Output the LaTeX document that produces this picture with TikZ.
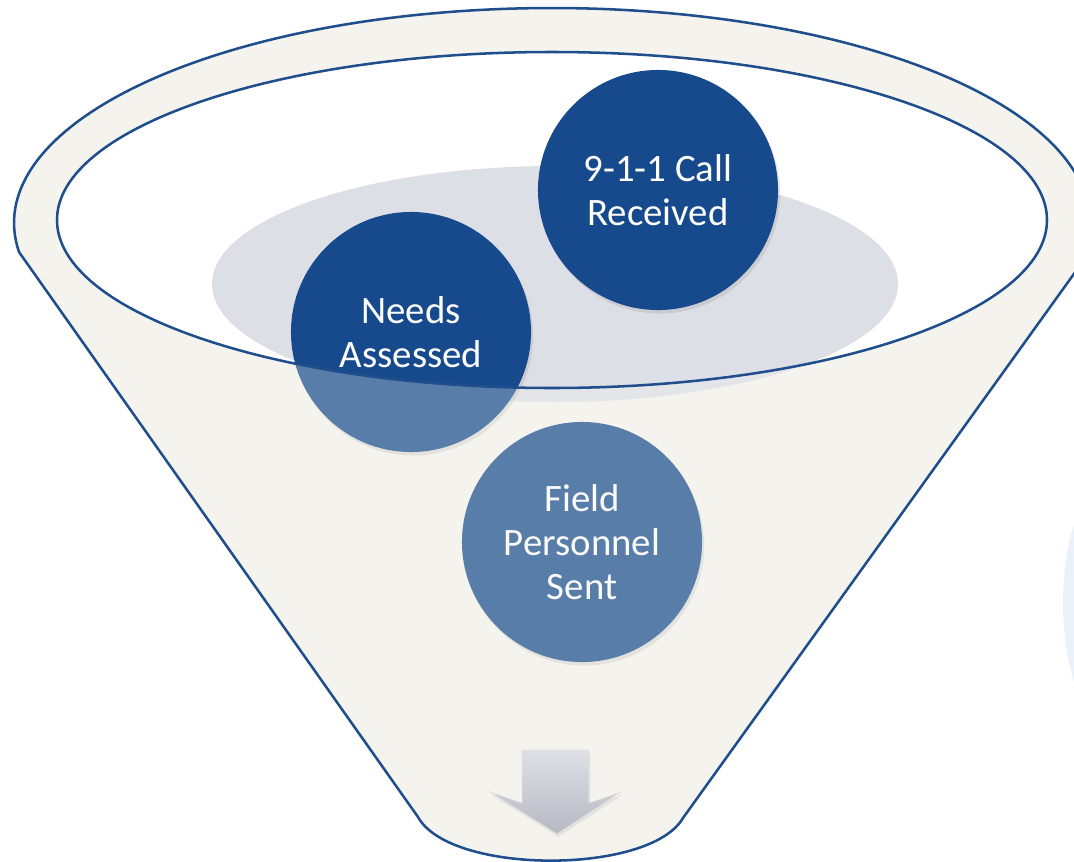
\documentclass[tikz,border=0pt]{standalone}
\usepackage{fontspec}
\setmainfont{Carlito}
\usetikzlibrary{shapes,arrows,positioning,shadows}
\definecolor{ballblue}{RGB}{22,74,140}
\definecolor{rimblue}{RGB}{32,78,140}
\definecolor{cream}{RGB}{244,243,238}
\definecolor{shadowgray}{RGB}{221,223,230}
\definecolor{paleblue}{RGB}{234,241,249}
\definecolor{arrowtop}{RGB}{222,224,230}
\definecolor{arrowbot}{RGB}{182,185,194}
\tikzstyle{ball} = [circle, fill=ballblue, text=white, align=center,
    minimum size=6cm, inner sep=0pt, font=\fontsize{27.6}{31.3}\selectfont,
    drop shadow={opacity=0.2, shadow xshift=1.5pt, shadow yshift=-2.5pt}]
\tikzstyle{rim} = [draw=rimblue, line width=1.8pt]

\begin{document}
\begin{tikzpicture}[x=0.025cm, y=-0.025cm]
  \clip (0,0) rectangle (1074,862);
  \fill [paleblue] (1353,603) circle (290);
  % funnel body, the opening left empty
  \fill [cream, even odd rule] (19,252)
    arc [start angle=172.25, end angle=372.1, x radius=538, y radius=215]
    -- (683,818) .. controls (650,875) and (450,875) .. (418,817) -- cycle
    (552,220) ellipse [x radius=495, y radius=168];
  \fill [shadowgray] (555,284) ellipse [x radius=343, y radius=118];
  \node [ball] (call) at (658,190) {9-1-1 Call\\Received};
  \node [ball] (needs) at (411,332) {Needs\\Assessed};
  \node [ball] (field) at (582,542) {Field\\Personnel\\Sent};
  % front wall of the funnel
  \fill [cream, opacity=0.3, even odd rule] (19,252)
    arc [start angle=172.25, end angle=372.1, x radius=538, y radius=215]
    -- (683,818) .. controls (650,875) and (450,875) .. (418,817) -- cycle
    (552,220) ellipse [x radius=495, y radius=168];
  % down arrow
  \shade [top color=arrowtop, bottom color=arrowbot, draw=white!80!gray,
    drop shadow={opacity=0.15, shadow xshift=1pt, shadow yshift=-2pt}]
    (522,750) -- (589,750) -- (589,803) -- (621,792) -- (557,834)
    -- (490,792) -- (522,803) -- cycle;
  \draw [rim] (19,252)
    arc [start angle=172.25, end angle=372.1, x radius=538, y radius=215]
    -- (683,818) .. controls (650,875) and (450,875) .. (418,817) -- cycle;
  \draw [rim] (552,220) ellipse [x radius=495, y radius=168];
\end{tikzpicture}
\end{document}
